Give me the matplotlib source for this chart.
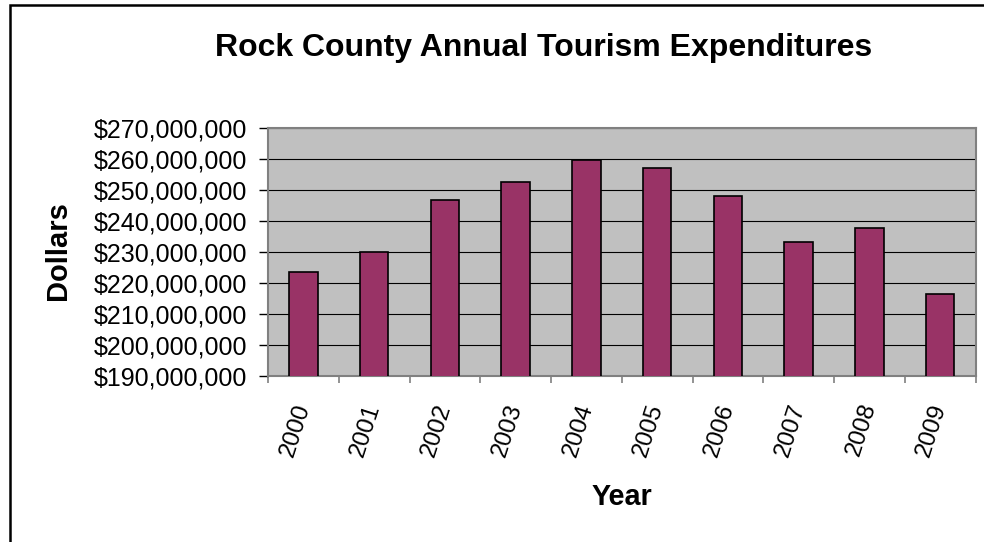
import matplotlib
matplotlib.use("Agg")
import matplotlib.pyplot as plt
from matplotlib.patches import Rectangle
from matplotlib.ticker import FuncFormatter, FixedLocator

plt.rcParams['font.family'] = ['Liberation Sans', 'DejaVu Sans']

years = ['2000', '2001', '2002', '2003', '2004', '2005', '2006', '2007', '2008', '2009']
spending = [223.7e6, 230.0e6, 246.9e6, 252.7e6, 259.9e6, 257.3e6, 248.1e6, 233.3e6, 238.0e6, 216.7e6]

W, H = 984, 542
fig = plt.figure(figsize=(W / 100, H / 100), dpi=100)
fig.patch.set_facecolor('white')

# chart border, runs off the right and bottom edges
fig.add_artist(Rectangle((10 / W, -0.2), 1.5, 1.2 - 5 / H, transform=fig.transFigure,
                         fill=False, edgecolor='black', linewidth=1.8, clip_on=False))

left, right, top, bottom = 268, 975.5, 128.3, 376.3
ax = fig.add_axes([left / W, 1 - bottom / H, (right - left) / W, (bottom - top) / H])
ax.set_facecolor('#C0C0C0')

pos = list(range(len(years)))
ax.bar(pos, spending, width=0.4, color='#993366', edgecolor='black', linewidth=1.2, zorder=3)

ax.set_ylim(190e6, 270e6)
ax.set_xlim(-0.5, len(years) - 0.5)
ax.set_yticks([190e6 + i * 10e6 for i in range(9)])
ax.yaxis.set_major_formatter(FuncFormatter(lambda v, p: '${:,.0f}'.format(v)))
ax.yaxis.grid(True, color='black', linewidth=0.8, zorder=1)
ax.set_axisbelow(True)

# boundary ticks between categories, labels centred under bars
ax.xaxis.set_major_locator(FixedLocator([i - 0.5 for i in range(len(years) + 1)]))
ax.xaxis.set_major_formatter(FuncFormatter(lambda v, p: ''))
ax.set_xticks(pos, minor=True)
ax.set_xticklabels(years, minor=True, rotation=72, ha='right', va='center',
                   rotation_mode='anchor', fontsize=17.5)
ax.tick_params(axis='x', which='minor', length=0, pad=20)
ax.tick_params(axis='x', which='major', length=5, width=1.2, color='#808080')
ax.tick_params(axis='y', length=6.5, width=1, color='black', pad=8.6, labelsize=18)

for s in ax.spines.values():
    s.set_color('#808080')
    s.set_linewidth(1.5)

fig.text(543.4 / W, 1 - 56 / H, 'Rock County Annual Tourism Expenditures',
         ha='center', va='baseline', fontsize=23, fontweight='bold')
fig.text(58 / W, 1 - 251 / H, 'Dollars', rotation=90, ha='center', va='center',
         fontsize=21, fontweight='bold')
fig.text(622 / W, 1 - 505 / H, 'Year', ha='center', va='baseline',
         fontsize=20.7, fontweight='bold')

fig.savefig('out.png', dpi=100)
